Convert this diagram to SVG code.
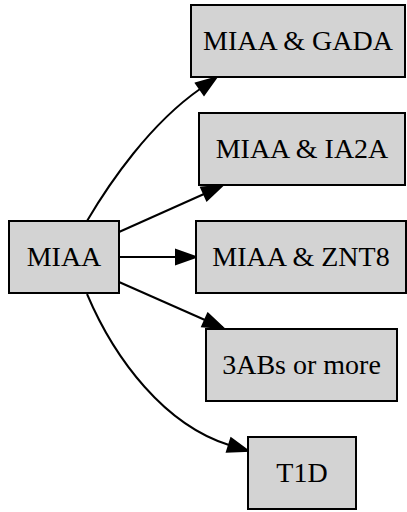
<svg xmlns="http://www.w3.org/2000/svg" width="407" height="512" viewBox="0 0 407 512">
<style>
.node rect{fill:#d3d3d3;stroke:#000;stroke-width:2}
.node text{font-size:28px;fill:#000;text-anchor:middle}
.edge{fill:none;stroke:#000;stroke-width:2;marker-end:url(#arrow)}
</style>
<defs>
<marker id="arrow" markerUnits="userSpaceOnUse" markerWidth="22" markerHeight="16" refX="0" refY="7" orient="auto" overflow="visible">
<path d="M0,0 L20,7 L0,14 Z" fill="#000" stroke="#000" stroke-width="2" stroke-linejoin="miter"/>
</marker>
</defs>
<rect width="407" height="512" fill="#fff"/>
<g id="connectors">
<path class="edge" d="M87,221 C110,182 150,124 200,89"/>
<path class="edge" d="M119,232 L204,194"/>
<path class="edge" d="M119,257 L176,257"/>
<path class="edge" d="M119,282 L205,320"/>
<path class="edge" d="M87,294 C115,360 165,425 229,445"/>
</g>
<g font-family="'Times New Roman', 'Liberation Serif', 'DejaVu Serif', serif">
<g id="n_miaa" class="node"><rect x="9" y="221" width="110" height="72"/><text x="64" y="266">MIAA</text></g>
<g id="n_gada" class="node"><rect x="191" y="5" width="214" height="72"/><text x="298" y="50">MIAA &amp; GADA</text></g>
<g id="n_ia2a" class="node"><rect x="199" y="113" width="206" height="72"/><text x="302" y="158">MIAA &amp; IA2A</text></g>
<g id="n_znt8" class="node"><rect x="196" y="221" width="210" height="72"/><text x="301" y="266">MIAA &amp; ZNT8</text></g>
<g id="n_3abs" class="node"><rect x="206" y="329" width="191" height="72"/><text x="301.5" y="374">3ABs or more</text></g>
<g id="n_t1d" class="node"><rect x="248" y="437" width="108" height="72"/><text x="302" y="482">T1D</text></g>
</g>
</svg>
